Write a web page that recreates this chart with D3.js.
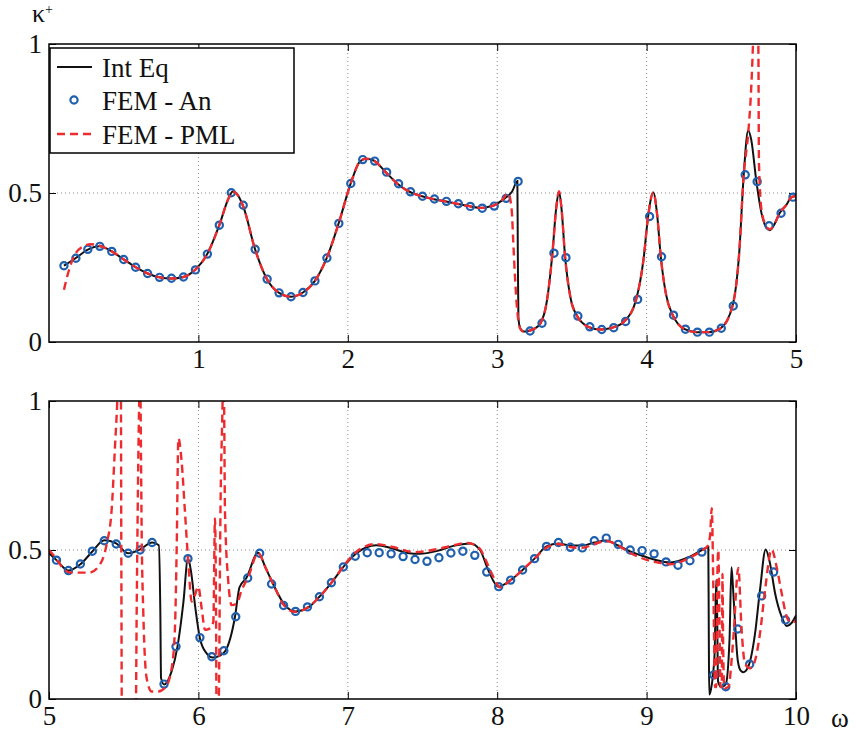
<!DOCTYPE html>
<html>
<head>
<meta charset="utf-8">
<script src="https://cdnjs.cloudflare.com/ajax/libs/d3/7.8.5/d3.min.js"></script>
<style>
  body { margin: 0; background: #fff; }
  svg text { font-family: "Liberation Serif", "Tinos", "Times New Roman", "DejaVu Serif", serif !important; }
</style>
</head>
<body>
<script>
// ---- data: [omega, kappa] ----
var intEqTop = [
  [0.10, 0.256], [0.18, 0.282], [0.26, 0.310], [0.34, 0.321], [0.42, 0.304], [0.50, 0.277],
  [0.58, 0.251], [0.66, 0.230], [0.74, 0.217], [0.82, 0.213], [0.90, 0.218], [0.98, 0.243],
  [1.06, 0.296], [1.14, 0.392], [1.20, 0.480], [1.23, 0.505], [1.26, 0.495], [1.30, 0.455],
  [1.38, 0.310], [1.46, 0.210], [1.54, 0.165], [1.62, 0.152], [1.70, 0.166], [1.78, 0.205],
  [1.86, 0.283], [1.94, 0.400], [2.02, 0.533], [2.08, 0.605], [2.12, 0.615], [2.17, 0.610],
  [2.25, 0.572], [2.33, 0.532], [2.41, 0.505], [2.49, 0.490], [2.57, 0.480], [2.65, 0.472],
  [2.73, 0.464], [2.81, 0.456], [2.89, 0.450], [2.97, 0.457], [3.05, 0.482], [3.10, 0.505],
  [3.135, 0.540], [3.138, 0.300], [3.142, 0.080], [3.155, 0.045], [3.18, 0.035], [3.21, 0.037],
  [3.25, 0.045], [3.29, 0.063], [3.33, 0.130], [3.37, 0.300], [3.395, 0.450], [3.414, 0.505],
  [3.43, 0.450], [3.455, 0.283], [3.49, 0.150], [3.535, 0.087], [3.61, 0.051], [3.69, 0.042],
  [3.77, 0.048], [3.85, 0.069], [3.93, 0.143], [3.98, 0.280], [4.01, 0.421], [4.045, 0.502],
  [4.07, 0.430], [4.095, 0.286], [4.13, 0.160], [4.175, 0.090], [4.255, 0.043], [4.335, 0.033],
  [4.415, 0.033], [4.495, 0.046], [4.575, 0.121], [4.62, 0.300], [4.65, 0.560], [4.68, 0.710],
  [4.70, 0.680], [4.735, 0.538], [4.77, 0.430], [4.80, 0.385], [4.825, 0.375], [4.85, 0.390],
  [4.89, 0.432], [4.935, 0.460], [4.97, 0.486], [5.00, 0.490]
];

var pmlTop = [
  [0.10, 0.175], [0.13, 0.235], [0.17, 0.290], [0.22, 0.318], [0.28, 0.328], [0.34, 0.323],
  [0.42, 0.304], [0.50, 0.277], [0.58, 0.251], [0.66, 0.230], [0.74, 0.217], [0.82, 0.213],
  [0.90, 0.218], [0.98, 0.243], [1.06, 0.296], [1.14, 0.392], [1.20, 0.480], [1.23, 0.505],
  [1.26, 0.495], [1.30, 0.455], [1.38, 0.310], [1.46, 0.210], [1.54, 0.165], [1.62, 0.152],
  [1.70, 0.166], [1.78, 0.205], [1.86, 0.283], [1.94, 0.400], [2.02, 0.533], [2.08, 0.605],
  [2.12, 0.615], [2.17, 0.610], [2.25, 0.572], [2.33, 0.532], [2.41, 0.505], [2.49, 0.490],
  [2.57, 0.480], [2.65, 0.472], [2.73, 0.464], [2.81, 0.456], [2.89, 0.450], [2.97, 0.457],
  [3.03, 0.475], [3.074, 0.499], [3.097, 0.443], [3.108, 0.331], [3.119, 0.219], [3.13, 0.130],
  [3.141, 0.074], [3.16, 0.040], [3.18, 0.035], [3.21, 0.037], [3.25, 0.045], [3.29, 0.063],
  [3.33, 0.130], [3.37, 0.300], [3.395, 0.450], [3.414, 0.505], [3.43, 0.450], [3.455, 0.283],
  [3.49, 0.150], [3.535, 0.087], [3.61, 0.051], [3.69, 0.042], [3.77, 0.048], [3.85, 0.069],
  [3.93, 0.143], [3.98, 0.280], [4.01, 0.421], [4.045, 0.502], [4.07, 0.430], [4.095, 0.286],
  [4.13, 0.160], [4.175, 0.090], [4.255, 0.043], [4.335, 0.033], [4.415, 0.033], [4.495, 0.046],
  [4.575, 0.121], [4.62, 0.300], [4.65, 0.560], [4.68, 0.700], [4.70, 0.850], [4.712, 1.000],
  [4.72, 1.150], [4.74, 1.150], [4.748, 1.000], [4.752, 0.600], [4.77, 0.440], [4.80, 0.390],
  [4.825, 0.378], [4.85, 0.390], [4.89, 0.432], [4.935, 0.460], [4.97, 0.486], [5.00, 0.490]
];

var anTop = [
  [0.10, 0.256], [0.18, 0.281], [0.26, 0.311], [0.34, 0.321], [0.42, 0.304], [0.50, 0.277],
  [0.58, 0.251], [0.66, 0.230], [0.74, 0.217], [0.82, 0.214], [0.90, 0.218], [0.98, 0.242],
  [1.06, 0.295], [1.14, 0.392], [1.22, 0.501], [1.30, 0.459], [1.38, 0.311], [1.46, 0.211],
  [1.54, 0.165], [1.62, 0.152], [1.70, 0.166], [1.78, 0.205], [1.86, 0.282], [1.94, 0.398],
  [2.02, 0.532], [2.10, 0.612], [2.18, 0.607], [2.26, 0.570], [2.34, 0.531], [2.42, 0.504],
  [2.50, 0.489], [2.58, 0.480], [2.66, 0.472], [2.74, 0.464], [2.82, 0.455], [2.90, 0.449],
  [2.98, 0.456], [3.06, 0.482], [3.14, 0.539], [3.22, 0.037], [3.30, 0.063], [3.38, 0.298],
  [3.46, 0.283], [3.54, 0.087], [3.62, 0.051], [3.70, 0.042], [3.78, 0.048], [3.86, 0.069],
  [3.94, 0.143], [4.02, 0.421], [4.10, 0.286], [4.18, 0.090], [4.26, 0.043], [4.34, 0.033],
  [4.42, 0.033], [4.50, 0.046], [4.58, 0.121], [4.66, 0.561], [4.74, 0.538], [4.82, 0.390],
  [4.90, 0.432], [4.98, 0.486]
];

var intEqBot = [
  [5.00, 0.490], [5.05, 0.466], [5.13, 0.431], [5.21, 0.452], [5.29, 0.495], [5.37, 0.533],
  [5.45, 0.522], [5.53, 0.489], [5.61, 0.502], [5.69, 0.525], [5.735, 0.516], [5.745, 0.300],
  [5.75, 0.070], [5.77, 0.049], [5.82, 0.092], [5.86, 0.176], [5.90, 0.327], [5.93, 0.472],
  [5.95, 0.430], [5.98, 0.304], [6.01, 0.204], [6.055, 0.153], [6.096, 0.139], [6.14, 0.145],
  [6.18, 0.161], [6.245, 0.276], [6.275, 0.375], [6.32, 0.405], [6.40, 0.491], [6.45, 0.440],
  [6.50, 0.386], [6.58, 0.314], [6.65, 0.294], [6.74, 0.309], [6.81, 0.343], [6.89, 0.390],
  [6.99, 0.455], [7.06, 0.490], [7.19, 0.516], [7.30, 0.505], [7.40, 0.490], [7.48, 0.487],
  [7.60, 0.497], [7.70, 0.513], [7.82, 0.522], [7.885, 0.500], [7.94, 0.433], [8.007, 0.377],
  [8.09, 0.399], [8.17, 0.433], [8.25, 0.471], [8.33, 0.512], [8.41, 0.522], [8.49, 0.515],
  [8.57, 0.515], [8.65, 0.525], [8.73, 0.532], [8.81, 0.515], [8.89, 0.495], [8.956, 0.483],
  [9.05, 0.468], [9.16, 0.458], [9.29, 0.478], [9.37, 0.500], [9.413, 0.510], [9.416, 0.250],
  [9.419, 0.015], [9.43, 0.030], [9.455, 0.150], [9.466, 0.400], [9.472, 0.300], [9.478, 0.060],
  [9.50, 0.040], [9.53, 0.050], [9.555, 0.200], [9.568, 0.442], [9.58, 0.360], [9.595, 0.230],
  [9.61, 0.130], [9.63, 0.095], [9.647, 0.090], [9.68, 0.108], [9.726, 0.220], [9.759, 0.366],
  [9.797, 0.502], [9.826, 0.455], [9.86, 0.355], [9.904, 0.276], [9.938, 0.245], [9.97, 0.255],
  [10.0, 0.280]
];

var pmlBot = [
  [5.00, 0.500], [5.05, 0.470], [5.10, 0.435], [5.15, 0.424], [5.27, 0.424], [5.33, 0.444],
  [5.386, 0.520], [5.42, 0.640], [5.442, 0.850], [5.457, 1.000], [5.47, 1.200], [5.48, 1.200],
  [5.484, 0.500], [5.488, -0.100], [5.58, -0.100], [5.587, 0.300], [5.604, 1.000], [5.61, 1.100],
  [5.616, 0.800], [5.62, 0.573], [5.631, 0.293], [5.654, 0.069], [5.687, 0.025], [5.732, 0.025],
  [5.78, 0.040], [5.821, 0.103], [5.843, 0.237], [5.855, 0.517], [5.866, 0.875], [5.888, 0.796],
  [5.91, 0.628], [5.932, 0.461], [5.955, 0.327], [5.977, 0.349], [5.999, 0.377], [6.022, 0.304],
  [6.044, 0.232], [6.078, 0.237], [6.10, 0.260], [6.111, 0.606], [6.118, 0.300], [6.122, -0.100],
  [6.133, -0.100], [6.149, 0.685], [6.162, 1.000], [6.167, 1.150], [6.172, 1.000], [6.178, 0.628],
  [6.20, 0.394], [6.223, 0.315], [6.256, 0.320], [6.29, 0.366], [6.334, 0.410], [6.40, 0.490],
  [6.45, 0.440], [6.50, 0.386], [6.58, 0.310], [6.65, 0.292], [6.74, 0.310], [6.81, 0.343],
  [6.89, 0.390], [6.99, 0.458], [7.06, 0.495], [7.19, 0.520], [7.30, 0.510], [7.45, 0.493],
  [7.60, 0.503], [7.70, 0.515], [7.80, 0.524], [7.885, 0.504], [7.918, 0.472], [7.974, 0.410],
  [8.019, 0.375], [8.09, 0.399], [8.17, 0.433], [8.25, 0.471], [8.33, 0.508], [8.41, 0.520],
  [8.49, 0.510], [8.57, 0.507], [8.65, 0.520], [8.73, 0.530], [8.81, 0.515], [8.89, 0.490],
  [8.956, 0.475], [9.05, 0.460], [9.12, 0.455], [9.16, 0.452], [9.29, 0.475], [9.37, 0.498],
  [9.41, 0.515], [9.425, 0.550], [9.436, 0.640], [9.447, 0.370], [9.458, 0.040], [9.466, 0.040],
  [9.475, 0.450], [9.48, 0.500], [9.488, 0.250], [9.495, 0.040], [9.503, 0.040], [9.508, 0.420],
  [9.512, 0.200], [9.52, 0.036], [9.547, 0.040], [9.58, 0.200], [9.614, 0.440], [9.636, 0.231],
  [9.658, 0.120], [9.692, 0.103], [9.72, 0.120], [9.759, 0.220], [9.793, 0.366], [9.837, 0.502],
  [9.87, 0.444], [9.904, 0.355], [9.938, 0.276], [9.97, 0.255], [10.0, 0.265]
];

var anBot = [
  [5.05, 0.466], [5.13, 0.431], [5.21, 0.453], [5.29, 0.496], [5.37, 0.531], [5.45, 0.520],
  [5.53, 0.489], [5.61, 0.500], [5.69, 0.525], [5.77, 0.050], [5.85, 0.176], [5.93, 0.471],
  [6.01, 0.206], [6.09, 0.142], [6.17, 0.162], [6.25, 0.276], [6.33, 0.406], [6.41, 0.489],
  [6.49, 0.386], [6.57, 0.314], [6.65, 0.294], [6.73, 0.309], [6.81, 0.343], [6.89, 0.390],
  [6.97, 0.443], [7.05, 0.479], [7.13, 0.491], [7.21, 0.491], [7.29, 0.487], [7.37, 0.478],
  [7.45, 0.468], [7.53, 0.462], [7.61, 0.474], [7.69, 0.490], [7.77, 0.496], [7.85, 0.482],
  [7.93, 0.426], [8.01, 0.377], [8.09, 0.399], [8.17, 0.433], [8.25, 0.471], [8.33, 0.512],
  [8.41, 0.525], [8.49, 0.509], [8.57, 0.507], [8.65, 0.531], [8.73, 0.540], [8.81, 0.519],
  [8.89, 0.500], [8.97, 0.498], [9.05, 0.487], [9.13, 0.460], [9.21, 0.449], [9.29, 0.464],
  [9.37, 0.493], [9.45, 0.081], [9.53, 0.041], [9.61, 0.235], [9.69, 0.117], [9.77, 0.346],
  [9.85, 0.426], [9.93, 0.265]
];

var xTicksTop = [1, 2, 3, 4, 5];
var xTicksBot = [5, 6, 7, 8, 9, 10];
var yTicks = [0, 0.5, 1];
var legendNames = ["Int Eq", "FEM - An", "FEM - PML"];

var width = 856, height = 733;
var left = 49, right = 796;
var FONT = "Liberation Serif, Tinos, Times New Roman, DejaVu Serif, serif";

var svg = d3.select("body").append("svg")
  .attr("width", width)
  .attr("height", height)
  .attr("font-family", FONT);

var xTop = d3.scaleLinear().domain([0, 5]).range([left, right]);
var yTop = d3.scaleLinear().domain([0, 1]).range([342, 44]);
var xBot = d3.scaleLinear().domain([5, 10]).range([left, right]);
var yBot = d3.scaleLinear().domain([0, 1]).range([699, 401]);

var BLACK = "#111", BLUE = "#1f5fae", RED = "#ee2b2e";

function drawPanel(id, x, y, xticks, intEq, an, pml) {
  var y0 = y.range()[0], y1 = y.range()[1];
  var g = svg.append("g");

  svg.append("clipPath").attr("id", id)
    .append("rect")
    .attr("x", left).attr("y", y1)
    .attr("width", right - left).attr("height", y0 - y1);

  // dotted grid
  g.selectAll(".vgrid")
    .data(xticks.filter(function (d) { return x(d) > left + 1 && x(d) < right - 1; }))
    .enter().append("line")
    .attr("x1", function (d) { return x(d); })
    .attr("x2", function (d) { return x(d); })
    .attr("y1", y0).attr("y2", y1)
    .attr("stroke", "#8a8a8a").attr("stroke-width", 1)
    .attr("stroke-dasharray", "1,3");
  g.append("line")
    .attr("x1", left).attr("x2", right)
    .attr("y1", y(0.5)).attr("y2", y(0.5))
    .attr("stroke", "#8a8a8a").attr("stroke-width", 1)
    .attr("stroke-dasharray", "1,3");

  // axes, ticks pointing inward
  var fmt = function (d) { return String(d); };
  g.append("g").attr("transform", "translate(0," + y0 + ")")
    .call(d3.axisBottom(x).tickValues(xticks).tickSizeInner(-7).tickSizeOuter(0).tickPadding(7).tickFormat(fmt));
  g.append("g").attr("transform", "translate(0," + y1 + ")")
    .call(d3.axisTop(x).tickValues(xticks).tickSizeInner(-7).tickSizeOuter(0).tickFormat(""));
  g.append("g").attr("transform", "translate(" + left + ",0)")
    .call(d3.axisLeft(y).tickValues(yTicks).tickSizeInner(-7).tickSizeOuter(0).tickPadding(7).tickFormat(fmt));
  g.append("g").attr("transform", "translate(" + right + ",0)")
    .call(d3.axisRight(y).tickValues(yTicks).tickSizeInner(-7).tickSizeOuter(0).tickFormat(""));
  g.selectAll(".domain").remove();
  g.selectAll("g").attr("font-family", FONT);
  g.selectAll(".tick line").attr("stroke", "#000").attr("stroke-width", 1);
  g.selectAll(".tick text")
    .attr("font-size", 27)
    .attr("fill", "#111");

  var line = d3.line()
    .x(function (d) { return x(d[0]); })
    .y(function (d) { return y(d[1]); })
    .curve(d3.curveMonotoneX);

  var plot = g.append("g").attr("clip-path", "url(#" + id + ")");

  plot.append("path").datum(intEq)
    .attr("d", line)
    .attr("fill", "none").attr("stroke", BLACK).attr("stroke-width", 2);

  plot.selectAll(".dot").data(an).enter().append("circle")
    .attr("class", "dot")
    .attr("cx", function (d) { return x(d[0]); })
    .attr("cy", function (d) { return y(d[1]); })
    .attr("r", 3.6)
    .attr("fill", "none").attr("stroke", BLUE).attr("stroke-width", 2.2);

  plot.append("path").datum(pml)
    .attr("d", line)
    .attr("fill", "none").attr("stroke", RED).attr("stroke-width", 2.4)
    .attr("stroke-dasharray", "8,5");

  // frame
  g.append("rect")
    .attr("x", left).attr("y", y1)
    .attr("width", right - left).attr("height", y0 - y1)
    .attr("fill", "none").attr("stroke", "#000").attr("stroke-width", 1.5);
}

drawPanel("clipTop", xTop, yTop, xTicksTop, intEqTop, anTop, pmlTop);
drawPanel("clipBot", xBot, yBot, xTicksBot, intEqBot, anBot, pmlBot);

// legend
var leg = svg.append("g");
leg.append("rect")
  .attr("x", 50).attr("y", 48).attr("width", 244).attr("height", 105)
  .attr("fill", "#fff").attr("stroke", "#000").attr("stroke-width", 1.5);
var rowY = [67, 100, 134];
leg.append("line").attr("x1", 57).attr("x2", 92).attr("y1", rowY[0]).attr("y2", rowY[0])
  .attr("stroke", BLACK).attr("stroke-width", 2);
leg.append("circle").attr("cx", 74).attr("cy", rowY[1]).attr("r", 3.6)
  .attr("fill", "none").attr("stroke", BLUE).attr("stroke-width", 2.2);
leg.append("line").attr("x1", 57).attr("x2", 92).attr("y1", rowY[2]).attr("y2", rowY[2])
  .attr("stroke", RED).attr("stroke-width", 2.4).attr("stroke-dasharray", "8,5");
leg.selectAll(".lt").data(legendNames).enter().append("text")
  .attr("x", 102)
  .attr("y", function (d, i) { return rowY[i] + 10; })
  .attr("font-size", 27)
  .attr("fill", "#111")
  .text(function (d) { return d; });

// axis labels
var kl = svg.append("text").attr("x", 32).attr("y", 22).attr("font-size", 26).attr("fill", "#111");
kl.append("tspan").text("κ");
kl.append("tspan").attr("font-size", 14).attr("dy", -8).text("+");
svg.append("text").attr("x", 831).attr("y", 727).attr("font-size", 27).attr("fill", "#111").text("ω");
</script>
</body>
</html>
